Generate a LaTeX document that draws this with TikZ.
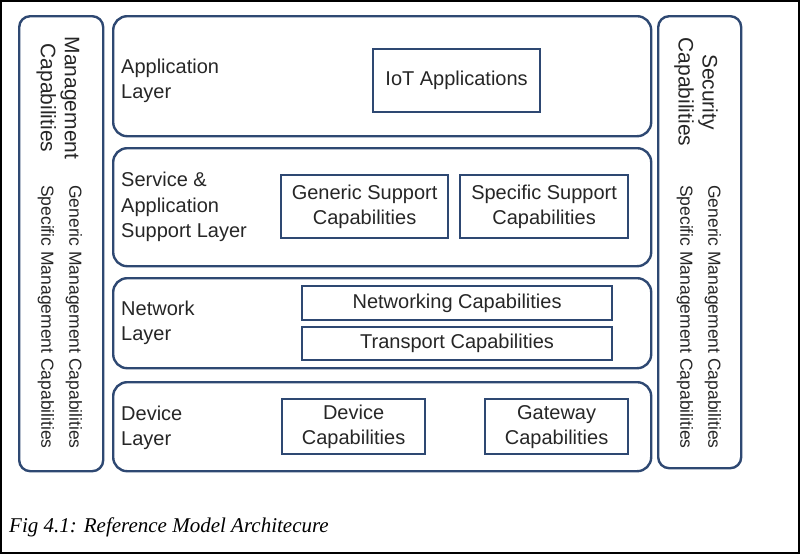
\documentclass[tikz,border=0pt]{standalone}
\usepackage{fontspec}
\setmainfont{Liberation Sans}
\newfontfamily\captionfont{Liberation Serif}
\usetikzlibrary{positioning}
\definecolor{navy}{RGB}{46,72,114}
\definecolor{inkgray}{RGB}{38,38,38}

\begin{document}
\begin{tikzpicture}[
        x=1pt, y=-1pt,
        every node/.style={text=inkgray, inner sep=0pt},
        layer/.style={draw=navy, line width=2.4pt, rounded corners=14pt, anchor=north west},
        side/.style={draw=navy, line width=2.4pt, rounded corners=11pt, anchor=north west},
        capbox/.style={draw=navy, line width=2.2pt, anchor=north west, align=center, font=\fontsize{20}{25}\selectfont},
        layerlabel/.style={anchor=west, align=left, font=\fontsize{20}{25.5}\selectfont},
        sidehead/.style={rotate=-90, align=center, font=\fontsize{21}{24}\selectfont},
        sidetext/.style={rotate=-90, align=center, font=\fontsize{17.5}{28}\selectfont}
    ]
        \useasboundingbox (0,0) rectangle (801,555);
        \draw[line width=2pt] (1,1) rectangle (799,553);

        % side panels
        \node[side, minimum width=84pt, minimum height=455pt] (mgmt) at (18,15) {};
        \node[side, minimum width=83pt, minimum height=452pt] (security) at (657,15) {};
        \node[sidehead] (mgmthead) at (58,98) {Management\\Capabilities};
        \node[sidetext] (mgmttext) at (60,317) {Generic Management Capabilities\\Specific Management Capabilities};
        \node[sidehead] (sechead) at (696,92) {Security\\Capabilities};
        \node[sidetext] (sectext) at (699,317) {Generic Management Capabilities\\Specific Management Capabilities};

        % layers
        \node[layer, minimum width=538pt, minimum height=120pt] (app) at (112,15) {};
        \node[layer, minimum width=538pt, minimum height=118pt] (service) at (112,147) {};
        \node[layer, minimum width=538pt, minimum height=90pt] (network) at (112,277) {};
        \node[layer, minimum width=538pt, minimum height=89pt] (device) at (112,381) {};

        \node[layerlabel] (applabel) at (121,81) {Application\\Layer};
        \node[layerlabel] (servicelabel) at (121,207) {Service \&\\Application\\Support Layer};
        \node[layerlabel] (networklabel) at (121,323) {Network\\Layer};
        \node[layerlabel] (devicelabel) at (121,428) {Device\\Layer};

        % capabilities
        \node[capbox, minimum width=167pt, minimum height=63pt] (iotapps) at (372,48) {IoT Applications};
        \node[capbox, minimum width=167pt, minimum height=63pt] (gensupport) at (280,174) {Generic Support\\Capabilities};
        \node[capbox, minimum width=168pt, minimum height=63pt] (specsupport) at (459,174) {Specific Support\\Capabilities};
        \node[capbox, minimum width=310pt, minimum height=34pt] (networking) at (301,285) {Networking Capabilities};
        \node[capbox, minimum width=310pt, minimum height=33pt] (transport) at (301,326) {Transport Capabilities};
        \node[capbox, minimum width=143pt, minimum height=55pt] (devcaps) at (281,398) {Device\\Capabilities};
        \node[capbox, minimum width=143pt, minimum height=55pt] (gwcaps) at (484,398) {Gateway\\Capabilities};

        \node[anchor=base west, text=black, font=\fontsize{21}{25}\captionfont\itshape] (caption) at (9,532) {Fig 4.1: Reference Model Architecure};
    \end{tikzpicture}
\end{document}
